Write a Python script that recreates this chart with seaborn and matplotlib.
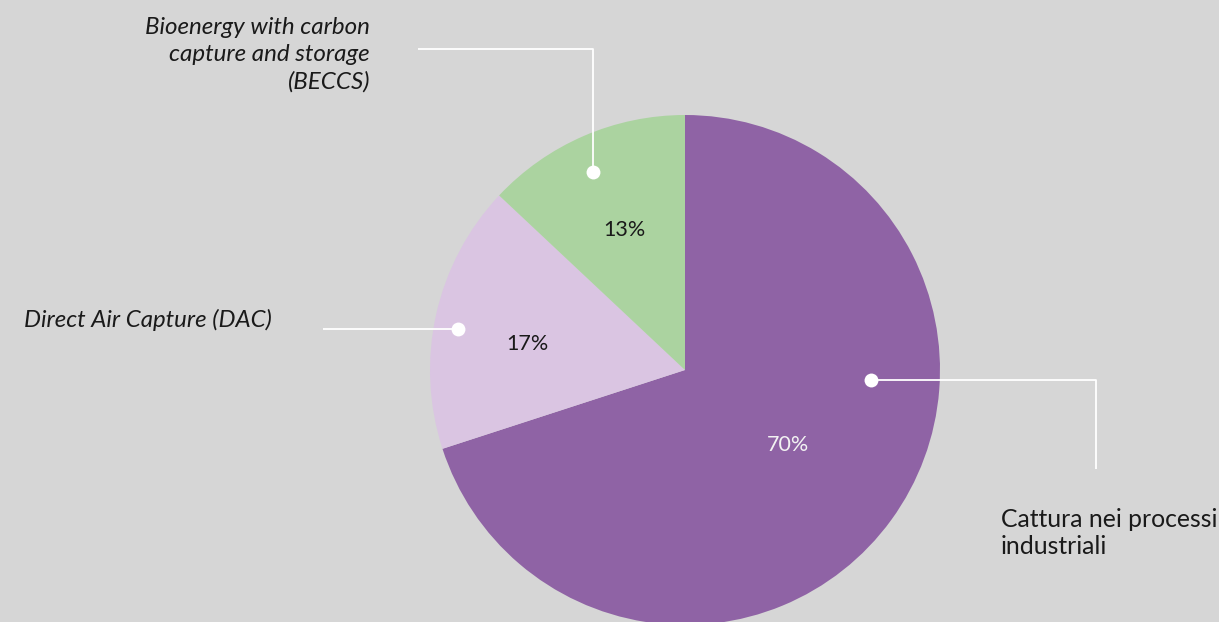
import matplotlib
matplotlib.use("Agg")
import matplotlib.pyplot as plt
import seaborn as sns
import numpy as np

# Data
categories = ["Cattura nei processi\nindustriali",
              "Direct Air Capture (DAC)",
              "Bioenergy with carbon\ncapture and storage\n(BECCS)"]
shares = [70, 17, 13]
pct_labels = ["70%", "17%", "13%"]

sns.set_theme(style="white")
plt.rcParams["font.family"] = ["Lato", "DejaVu Sans"]

bg = "#d6d6d6"
colors = ["#8f63a5", "#dac5e2", "#abd3a0"]
pct_colors = ["#f2f2f2", "#1a1a1a", "#1a1a1a"]

W, H = 1219, 622
fig = plt.figure(figsize=(W / 100, H / 100), dpi=100, facecolor=bg)
ax = fig.add_axes([0, 0, 1, 1])
ax.set_facecolor(bg)

cx, cy, R = 685, H - 370, 255
wedges, _ = ax.pie(shares, colors=colors, startangle=90, counterclock=False,
                   center=(cx, cy), radius=R,
                   wedgeprops=dict(linewidth=0))

# Percent labels inside each wedge
pct_radius = [0.5, 0.625, 0.6]
pct_angle_shift = [-0.3, 3.2, 0.0]
for w, lab, col, rf, da in zip(wedges, pct_labels, pct_colors,
                               pct_radius, pct_angle_shift):
    ang = np.deg2rad((w.theta1 + w.theta2) / 2 + da)
    ax.text(cx + rf * R * np.cos(ang), cy + rf * R * np.sin(ang), lab,
            ha="center", va="center", fontsize=15.5, color=col)

# Callout lines with dots (pixel layout, y measured from top)
callouts = [
    # industrial capture: dot -> right -> down
    dict(path=[(871, 380), (1096, 380), (1096, 469)]),
    # DAC: dot -> left
    dict(path=[(458, 329), (323, 329)]),
    # BECCS: dot -> up -> left
    dict(path=[(593, 172), (593, 49), (418, 49)]),
]
for c in callouts:
    xs = [p[0] for p in c["path"]]
    ys = [H - p[1] for p in c["path"]]
    ax.plot(xs, ys, color="white", lw=1.3, solid_capstyle="butt", zorder=3)
    ax.scatter([xs[0]], [ys[0]], s=100, color="white", zorder=4, linewidths=0)

# Category labels
ax.text(1001, H - 533, categories[0], ha="left", va="center",
        fontsize=17.8, color="#1a1a1a", linespacing=1.24)
ax.text(24, H - 320, categories[1], ha="left", va="center",
        fontsize=17.3, color="#1a1a1a", style="italic")
ax.text(370, H - 55, categories[2], ha="right", va="center",
        fontsize=17.4, color="#1a1a1a", style="italic",
        linespacing=1.36, multialignment="right")

ax.set_xlim(0, W)
ax.set_ylim(0, H)
ax.set_aspect("equal")
ax.axis("off")

fig.savefig("out.png", dpi=100, facecolor=bg)
